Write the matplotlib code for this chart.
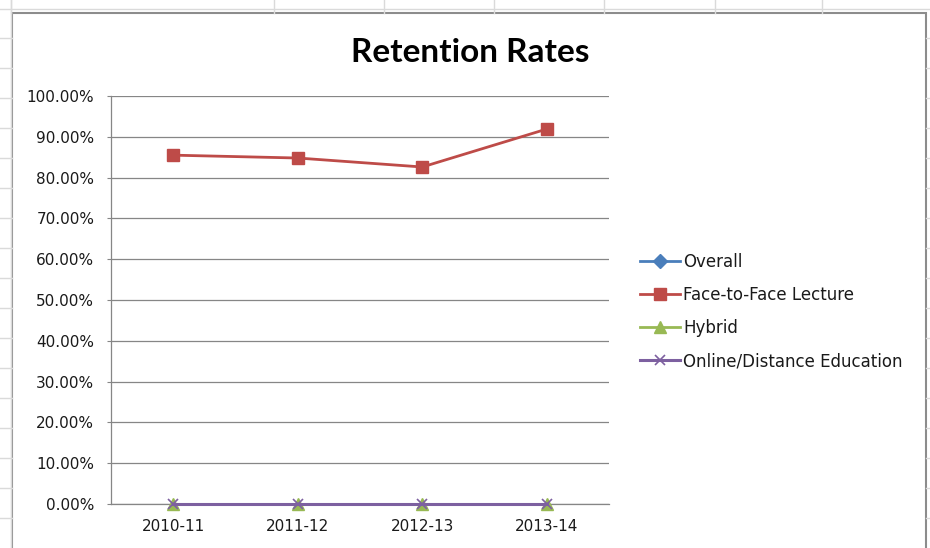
import numpy as np
import matplotlib
matplotlib.use("Agg")
import matplotlib.pyplot as plt
from matplotlib.patches import Rectangle
from matplotlib.lines import Line2D
from matplotlib.ticker import PercentFormatter

# data (retention, %); Overall shows no points
years = ["2010-11", "2011-12", "2012-13", "2013-14"]
overall = [np.nan, np.nan, np.nan, np.nan]
face_to_face = [85.5, 84.8, 82.6, 91.9]
hybrid = [0, 0, 0, 0]
online = [0, 0, 0, 0]
yticks = [0, 10, 20, 30, 40, 50, 60, 70, 80, 90, 100]

W, H = 930, 548
fig = plt.figure(figsize=(W / 100, H / 100), dpi=100)
fig.patch.set_facecolor("white")

def fx(x):
    return x / W

def fy(y):
    return 1 - y / H

# spreadsheet cells behind the chart
cell_col = "#dadada"
for x in [11, 274, 384, 494, 604, 715, 822]:
    fig.add_artist(Line2D([fx(x), fx(x)], [fy(0), fy(13)], color=cell_col, lw=1))
fig.add_artist(Line2D([fx(0), fx(W)], [fy(9), fy(9)], color=cell_col, lw=1))
for y in np.arange(38, H, 30):
    fig.add_artist(Line2D([fx(0), fx(12)], [fy(y), fy(y)], color=cell_col, lw=1))
    fig.add_artist(Line2D([fx(926), fx(W)], [fy(y), fy(y)], color=cell_col, lw=1))
fig.add_artist(Line2D([fx(11), fx(11)], [fy(0), fy(H)], color=cell_col, lw=1))

# chart area box
fig.add_artist(Rectangle((fx(12), fy(H + 5)), fx(926) - fx(12), fy(13) - fy(H + 5),
                         transform=fig.transFigure, facecolor="white",
                         edgecolor="#8c8c8c", lw=1.5))

ax = fig.add_axes([fx(111), fy(504), fx(609) - fx(111), fy(96) - fy(504)])
ax.set_facecolor("none")
ax.set_zorder(5)

x = np.arange(len(years))
ax.plot(x, overall, color="#4A7EBB", lw=2, marker="D", ms=7, label="Overall",
        clip_on=False, zorder=3)
ax.plot(x, face_to_face, color="#BE4B48", lw=2, marker="s", ms=8.5,
        label="Face-to-Face Lecture", clip_on=False, zorder=3)
ax.plot(x, hybrid, color="#98B954", lw=2, marker="^", ms=9, label="Hybrid",
        clip_on=False, zorder=3)
ax.plot(x, online, color="#7D60A0", lw=2.2, marker="x", ms=7, mew=1.2,
        label="Online/Distance Education", clip_on=False, zorder=3)

ax.set_xlim(-0.5, 3.5)
ax.set_ylim(0, 100)
ax.set_xticks(x)
ax.set_xticklabels(years)
ax.set_yticks(yticks)
ax.yaxis.set_major_formatter(PercentFormatter(decimals=2))

ax.grid(axis="y", color="#868686", lw=0.9)
ax.set_axisbelow(True)
for s in ["top", "right"]:
    ax.spines[s].set_visible(False)
ax.spines["left"].set_color("#868686")
ax.spines["bottom"].set_color("#868686")
ax.spines["left"].set_linewidth(0.9)
ax.spines["bottom"].set_linewidth(0.9)
ax.tick_params(axis="y", length=3, color="#868686", pad=9, labelsize=11,
               labelcolor="#1a1a1a")
ax.tick_params(axis="x", length=0, pad=11, labelsize=11, labelcolor="#1a1a1a")
for lab in ax.get_xticklabels() + ax.get_yticklabels():
    lab.set_family("DejaVu Sans")

fig.text(fx(470), fy(52), "Retention Rates", ha="center", va="center",
         fontsize=24, fontweight="bold", family="Lato", color="black")

leg = fig.legend(loc="center left", bbox_to_anchor=(fx(640), fy(311.5)),
                 frameon=False, fontsize=12, handlelength=2.4,
                 handletextpad=0.2, labelspacing=0.9, borderpad=0,
                 borderaxespad=0)
leg.set_zorder(6)
for t in leg.get_texts():
    t.set_color("#1a1a1a")

fig.savefig("out.png", dpi=100)
